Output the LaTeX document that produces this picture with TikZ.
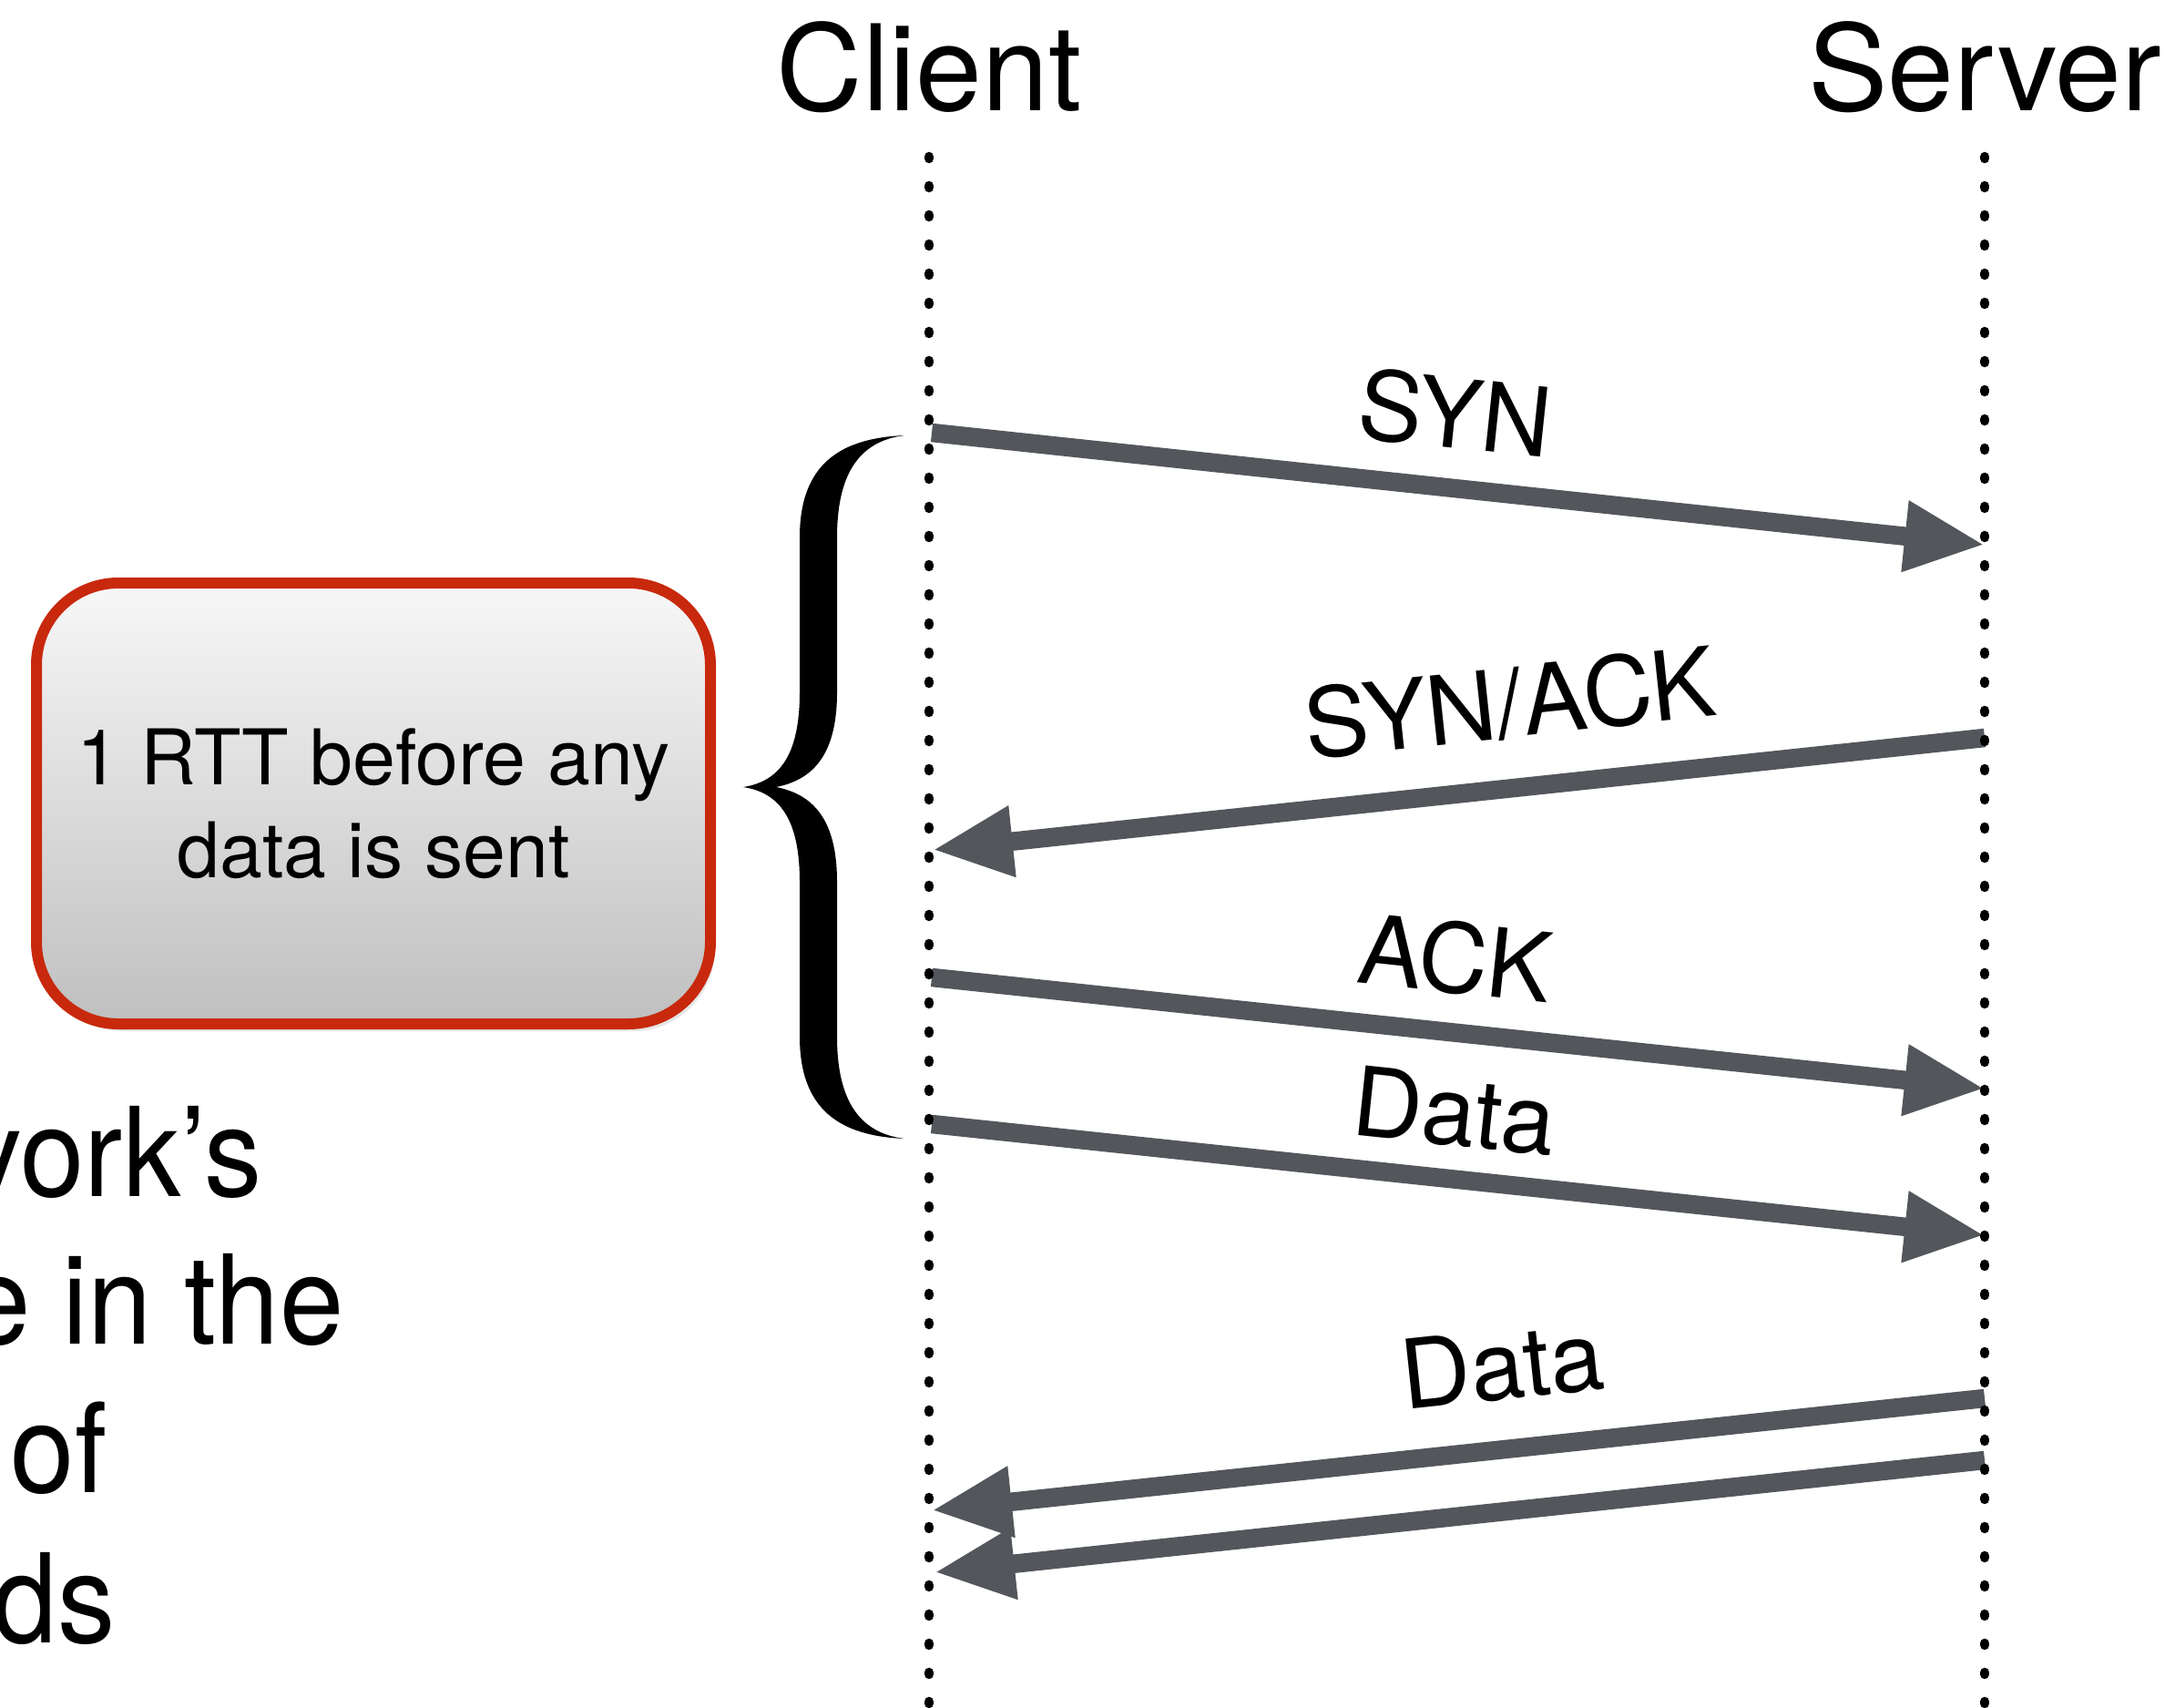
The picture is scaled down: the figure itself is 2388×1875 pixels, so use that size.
\documentclass[tikz,border=0pt]{standalone}
\usepackage{fontspec}
\setmainfont{TeX Gyre Heros}
\newfontfamily\narrowfont[FakeStretch=0.93]{TeX Gyre Heros}
\usetikzlibrary{arrows.meta,shadows}

\definecolor{msggray}{HTML}{53575C}
\definecolor{boxred}{HTML}{C8290D}

\tikzset{
  lifeline/.style={line width=1.05mm, line cap=round, dash pattern=on 0.2mm off 3mm},
  msg/.style={msggray, line width=2.05mm, -{Triangle[length=8.8mm,width=7.3mm]}},
  lbl/.style={text=black, sloped, above=#1, inner sep=0pt, font=\fontsize{30}{36}\selectfont},
  lbl/.default=3.2mm,
  rttbox/.style={draw=boxred, line width=1.2mm, rounded corners=9mm,
    top color=black!3, bottom color=black!25,
    minimum width=74mm, minimum height=48.4mm, align=center,
    font=\fontsize{24}{29}\selectfont,
    drop shadow={shadow xshift=0.5mm, shadow yshift=-0.8mm, opacity=0.2}},
  bigtext/.style={anchor=base east, inner sep=0pt, font=\narrowfont\fontsize{38.7}{46}\selectfont},
}

\begin{document}
\begin{tikzpicture}[x=0.1mm, y=-0.1mm]
    \useasboundingbox (0,0) rectangle (2388,1875);
    \clip (0,0) rectangle (2388,1875);

    \coordinate (C0) at (1020,172);
    \coordinate (C9) at (1020,1890);
    \coordinate (S0) at (2179,172);
    \coordinate (S9) at (2179,1890);

    \coordinate (C1) at (1023,475);
    \coordinate (S1) at (2179,598);
    \coordinate (S2) at (2179,810);
    \coordinate (C2) at (1024,933);
    \coordinate (C3) at (1023,1073);
    \coordinate (S3) at (2179,1195);
    \coordinate (C4) at (1023,1234);
    \coordinate (S4) at (2179,1356);
    \coordinate (S5) at (2179,1535);
    \coordinate (C5) at (1023,1658);
    \coordinate (S6) at (2179,1603);
    \coordinate (C6) at (1026,1726);

    \node[anchor=base, font=\fontsize{37.3}{44}\selectfont] (client) at (1020,122) {Client};
    \node[anchor=base, font=\fontsize{37.3}{44}\selectfont] (server) at (2179,122) {Server};

    % text running off the left edge
    \node[bigtext] (line1) at (288,1313) {vork’s};
    \node[bigtext] (line2) at (378,1475) {e in the};
    \node[bigtext] (line3) at (118,1638) {of};
    \node[bigtext] (line4) at (127,1803) {ds};

    \node[rttbox] (rtt) at (410,882) {1 RTT before any\\data is sent};

    % brace
    \fill (993,478) .. controls (922,481) and (878,510) .. (878,590)
      -- (878,760) .. controls (878,830) and (855,858) .. (816,864)
      .. controls (855,870) and (878,898) .. (878,968)
      -- (878,1138) .. controls (878,1218) and (922,1247) .. (993,1250)
      .. controls (945,1244) and (919,1210) .. (919,1138)
      -- (919,968) .. controls (919,900) and (893,872) .. (852,864)
      .. controls (893,856) and (919,828) .. (919,760)
      -- (919,590) .. controls (919,518) and (945,484) .. (993,478) -- cycle;

    \draw[msg] (C1) -- node[lbl, pos=0.49] {SYN} (S1); % SYN
    \draw[msg] (S2) -- node[lbl=4.3mm, pos=0.443] {SYN/ACK} (C2); % SYN/ACK
    \draw[msg] (C3) -- node[lbl=3.1mm, pos=0.49] {ACK} (S3); % ACK
    \draw[msg] (C4) -- node[lbl=2.5mm, pos=0.49] {Data} (S4); % data out
    \draw[msg] (S5) -- node[lbl=4.3mm, pos=0.45] {Data} (C5); % data back
    \draw[msg] (S6) -- (C6);

    \draw[lifeline] (C0) -- (C9); % client
    \draw[lifeline] (S0) -- (S9); % server
\end{tikzpicture}
\end{document}
